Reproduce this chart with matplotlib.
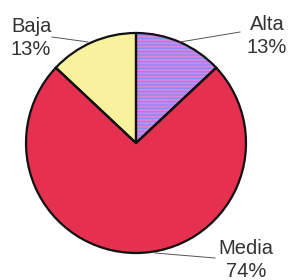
import matplotlib
matplotlib.use("Agg")
import matplotlib.pyplot as plt

categories = ["Alta", "Media", "Baja"]
values = [13, 74, 13]
labels_pct = ["13%", "74%", "13%"]

colors = ["#d884e4", "#e5304f", "#f8f29c"]

fig = plt.figure(figsize=(2.9, 2.8), dpi=100)
ax = fig.add_axes([0, 0, 1, 1])

center = (136, 280 - 143)
R = 110

wedges, _ = ax.pie(values, colors=colors, startangle=90, counterclock=False,
                   center=center, radius=R, frame=True,
                   wedgeprops=dict(linewidth=0))
wedges[0].set_hatch("-----")
wedges[0].set_edgecolor("#8a8cf0")
wedges[0].set_linewidth(0)

ax.pie(values, colors=["none"] * 3, startangle=90, counterclock=False,
       center=center, radius=R, frame=True,
       wedgeprops=dict(linewidth=1.6, edgecolor="#111111"))
ax.set_xlim(0, 290)
ax.set_ylim(0, 280)
ax.set_aspect("equal")
ax.axis("off")

tc = "#333333"
fs = 14.5
fam = "Liberation Sans"
texts = [f"{c}\n{p}" for c, p in zip(categories, labels_pct)]
# Alta
ax.text(267, 280 - 53, texts[0], ha="center", va="baseline", fontsize=fs,
        color=tc, family=fam, linespacing=1.25, multialignment="center")
# Media
ax.text(246, 280 - 277, texts[1], ha="center", va="baseline", fontsize=fs,
        color=tc, family=fam, linespacing=1.25, multialignment="center")
# Baja
ax.text(11, 280 - 55, texts[2], ha="left", va="baseline", fontsize=fs,
        color=tc, family=fam, linespacing=1.25)

lc = "#555555"
ax.plot([52, 88], [280 - 37, 280 - 42], color=lc, lw=0.7)
ax.plot([240, 180], [280 - 32, 280 - 42], color=lc, lw=0.7)
ax.plot([155, 215], [280 - 253, 280 - 258], color=lc, lw=0.7)

fig.savefig("out.png", dpi=100)
